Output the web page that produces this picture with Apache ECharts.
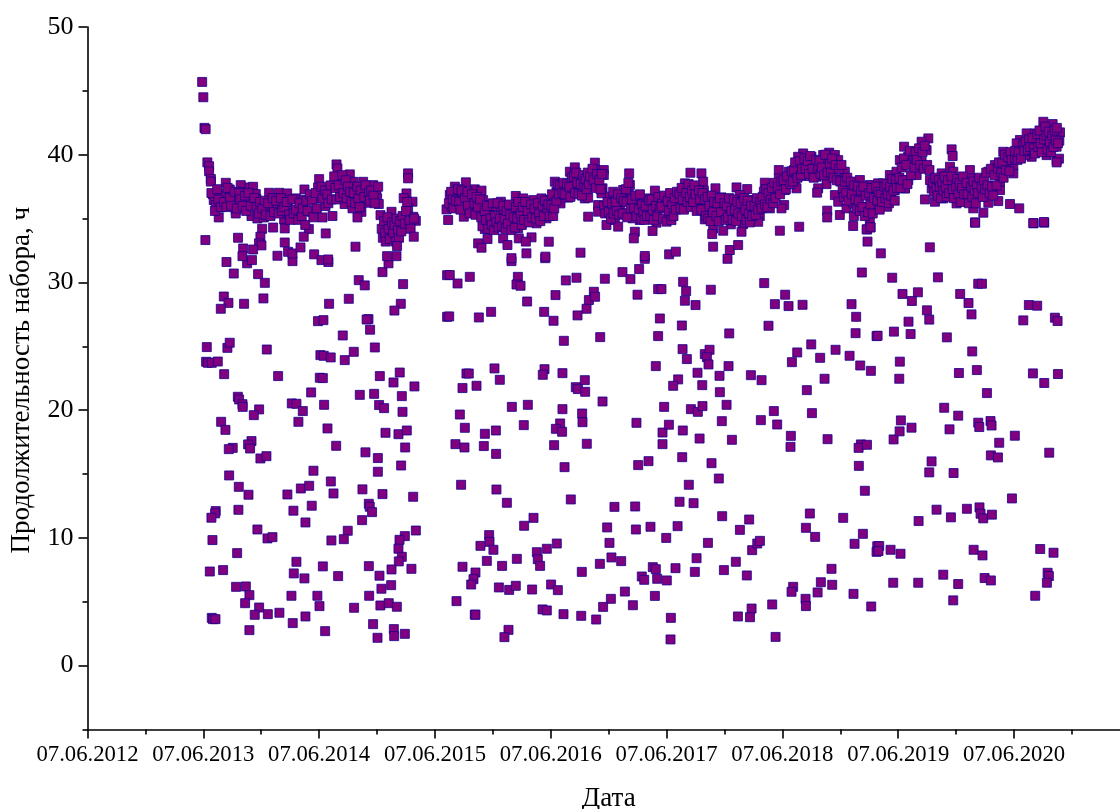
<!DOCTYPE html>
<html><head><meta charset="utf-8">
<style>html,body{margin:0;padding:0;background:#fff}#c{width:1120px;height:809px}</style>
<script src="https://cdn.jsdelivr.net/npm/echarts@6/dist/echarts.min.js"></script>
</head><body><div id="c"></div>
<script>
const xName = 'Дата';
const yName = 'Продолжительность набора, ч';
const xLabelYears = [2012,2013,2014,2015,2016,2017,2018,2019,2020];
const xMinorYears = [2012.5,2013.5,2014.5,2015.5,2016.5,2017.5,2018.5,2019.5,2020.5];
const yMajor = [0,10,20,30,40,50];
const yMinor = [-5,5,15,25,35,45];

const head2013 = [[2012.99,45.7],[2013.0,44.5],[2013.01,42.1],[2013.02,42.0],[2013.035,39.4],[2013.05,39.1],[2013.05,38.7],[2013.065,38.1],[2013.065,37.9]];

const scatter2013 = [[2013.018,33.32],[2013.3,33.5],[2013.2,31.6],[2013.378,31.5],[2013.42,31.75],[2013.263,30.7],[2013.473,30.65],[2013.531,29.97],[2013.177,28.9],[2013.217,28.4],[2013.151,27.94],[2013.352,28.33],[2013.519,28.75],[2013.77,31.67],[2013.03,24.94],[2013.208,24.88],[2013.228,25.28],[2013.548,24.75],[2013.024,23.79],[2013.04,23.71],[2013.073,23.71],[2013.125,23.81],[2013.18,22.82],[2013.646,22.67],[2013.931,21.39],[2013.298,21.05],[2013.309,20.84],[2013.338,20.47],[2013.34,20.26],[2013.482,20.06],[2013.436,19.61],[2013.764,20.53],[2013.804,20.5],[2013.859,19.93],[2013.154,19.09],[2013.191,18.46],[2013.821,19.09],[2013.254,17.05],[2013.22,16.95],[2013.416,17.58],[2013.387,17.32],[2013.404,17.0],[2013.493,16.22],[2013.545,16.4],[2013.223,14.89],[2013.306,14.0],[2013.39,13.38],[2013.951,15.26],[2013.842,13.87],[2013.914,14.08],[2013.726,13.4],[2013.303,12.2],[2013.778,12.13],[2013.936,12.52],[2013.107,12.1],[2013.102,11.92],[2013.07,11.58],[2013.882,11.21],[2013.467,10.66],[2013.554,9.96],[2013.597,10.06],[2013.079,9.83],[2013.292,8.81],[2013.804,8.13],[2013.056,7.37],[2013.171,7.48],[2013.781,7.22],[2013.873,6.83],[2013.283,6.17],[2013.367,6.2],[2013.398,5.52],[2013.761,5.47],[2013.985,5.47],[2013.361,4.89],[2013.482,4.55],[2013.444,3.98],[2013.557,4.03],[2013.657,4.14],[2013.073,3.74],[2013.084,3.64],[2013.105,3.64],[2013.882,3.85],[2013.772,3.33],[2013.398,2.78],[2013.493,33.58],[2013.481,33.06],[2013.502,32.9],[2013.344,32.66],[2013.43,32.58],[2013.338,32.06],[2013.64,32.09],[2013.732,32.4],[2013.77,32.27],[2013.957,32.2],[2013.703,33.13],[2013.839,32.74],[2013.99,26.97]];

const scatter2014 = [[2014.02,31.75],[2014.08,31.6],[2014.086,28.33],[2014.256,28.72],[2014.342,30.18],[2014.394,29.77],[2014.547,30.81],[2014.599,31.5],[2014.725,29.87],[2014.705,28.33],[2014.65,27.8],[2014.037,27.05],[2014.426,27.13],[2014.41,27.1],[2014.44,26.3],[2014.204,25.85],[2014.481,24.91],[2014.299,24.57],[2014.011,24.31],[2014.04,24.26],[2014.1,24.13],[2014.221,23.92],[2014.006,22.54],[2014.032,22.51],[2014.524,22.67],[2014.696,22.95],[2014.642,22.17],[2014.823,21.86],[2014.351,21.2],[2014.475,21.28],[2014.714,21.1],[2014.043,20.42],[2014.518,20.4],[2014.561,20.16],[2014.72,19.87],[2014.072,18.57],[2014.573,18.23],[2014.685,18.12],[2014.757,18.41],[2014.147,17.21],[2014.4,16.7],[2014.743,17.08],[2014.507,16.25],[2014.101,14.42],[2014.124,13.48],[2014.374,13.8],[2014.547,13.43],[2014.812,13.22],[2014.507,15.18],[2014.708,15.67],[2014.429,12.67],[2014.437,12.44],[2014.457,12.02],[2014.371,11.39],[2014.247,10.56],[2014.213,9.9],[2014.106,9.8],[2014.835,10.58],[2014.74,10.14],[2014.694,9.85],[2014.685,9.15],[2014.714,8.52],[2014.688,8.16],[2014.032,7.77],[2014.429,7.79],[2014.625,7.53],[2014.797,7.58],[2014.164,7.01],[2014.521,7.04],[2014.538,6.02],[2014.622,6.3],[2014.432,5.47],[2014.003,4.66],[2014.302,4.53],[2014.529,4.71],[2014.601,4.89],[2014.671,4.61],[2014.466,3.25],[2014.052,2.7],[2014.504,2.18],[2014.645,2.86],[2014.648,2.31],[2014.74,2.49],[2014.057,33.84],[2014.314,32.8],[2014.673,32.85],[2014.668,32.06],[2014.587,32.06],[2014.817,33.58],[2014.078,31.8]];

const scatter2015 = [[2015.105,30.57],[2015.105,27.31],[2015.128,30.58],[2015.195,29.92],[2015.301,30.44],[2015.661,31.67],[2015.952,31.9],[2015.716,30.44],[2015.704,29.84],[2015.739,29.74],[2015.796,28.51],[2015.943,27.7],[2015.485,27.7],[2015.379,27.26],[2015.123,27.34],[2015.272,22.87],[2015.292,22.87],[2015.514,23.27],[2015.56,22.38],[2015.359,21.91],[2015.238,21.73],[2015.946,23.21],[2015.931,22.77],[2015.664,20.26],[2015.802,20.42],[2015.215,19.66],[2015.258,18.62],[2015.431,18.15],[2015.526,18.41],[2015.767,18.83],[2015.177,17.34],[2015.255,17.08],[2015.422,17.19],[2015.528,16.58],[2015.226,14.16],[2015.531,13.79],[2015.621,12.75],[2015.851,11.57],[2015.77,10.95],[2015.468,10.22],[2015.471,9.69],[2015.393,9.38],[2015.505,9.07],[2015.966,9.15],[2015.88,8.88],[2015.888,8.33],[2015.908,7.81],[2015.448,8.2],[2015.707,8.36],[2015.238,7.74],[2015.58,7.81],[2015.35,7.29],[2015.333,6.77],[2015.313,6.35],[2015.552,6.12],[2015.641,5.93],[2015.698,6.25],[2015.839,5.96],[2015.186,5.05],[2015.344,3.99],[2015.35,3.99],[2015.929,4.4],[2015.966,4.32],[2015.635,2.8],[2015.6,2.23],[2015.373,33.06],[2015.402,32.72],[2015.454,33.4],[2015.589,33.45],[2015.626,32.93],[2015.724,33.45],[2015.834,33.53],[2015.785,33.2],[2015.79,32.28],[2015.661,31.9],[2015.954,32.02],[2015.983,33.19]];

const scatter2016 = [[2016.13,30.16],[2016.222,30.37],[2016.467,30.29],[2016.619,30.81],[2016.688,30.26],[2016.763,31.05],[2016.812,31.85],[2016.372,29.27],[2016.329,28.62],[2016.383,28.88],[2016.309,27.94],[2016.749,29.04],[2016.927,29.48],[2016.041,29.01],[2016.024,27.0],[2016.231,27.42],[2016.113,25.43],[2016.427,25.72],[2016.927,25.8],[2016.942,27.18],[2016.907,23.45],[2016.101,22.9],[2016.294,22.35],[2016.216,21.8],[2016.234,21.65],[2016.297,21.44],[2016.447,20.68],[2016.101,20.08],[2016.271,19.74],[2016.274,19.06],[2016.081,18.96],[2016.044,18.54],[2016.098,18.31],[2016.74,19.01],[2016.029,17.26],[2016.311,17.37],[2016.965,18.25],[2016.965,17.34],[2016.119,15.54],[2016.755,15.7],[2016.844,16.01],[2016.173,13.01],[2016.55,12.43],[2016.729,12.46],[2016.487,10.82],[2016.735,10.66],[2016.861,10.87],[2016.052,9.56],[2016.507,9.61],[2016.524,8.47],[2016.608,8.18],[2016.424,7.97],[2016.268,7.34],[2016.881,7.71],[2016.907,7.55],[2016.786,6.98],[2016.807,6.72],[2016.919,6.8],[2016.003,6.35],[2016.061,5.91],[2016.64,5.8],[2016.899,5.46],[2016.519,5.23],[2016.452,4.6],[2016.709,4.73],[2016.11,4.03],[2016.263,3.9],[2016.392,3.61],[2016.979,20.26],[2016.997,10.0],[2016.956,29.48],[2016.257,32.33],[2016.812,32.07],[2016.726,33.97],[2016.717,33.45],[2016.879,34.03],[2016.323,35.15]];

const scatter2017 = [[2017.526,31.85],[2017.143,30.05],[2017.169,29.32],[2017.158,28.57],[2017.25,28.23],[2017.382,29.43],[2017.843,29.95],[2017.935,28.3],[2017.88,26.61],[2017.132,26.63],[2017.541,26.01],[2017.138,24.78],[2017.33,24.39],[2017.371,24.73],[2017.348,24.15],[2017.362,23.58],[2017.175,24.0],[2017.267,22.93],[2017.1,22.41],[2017.057,21.91],[2017.308,21.96],[2017.535,23.45],[2017.457,22.69],[2017.46,21.41],[2017.728,22.74],[2017.82,22.35],[2017.518,20.42],[2017.21,20.08],[2017.27,19.87],[2017.31,20.32],[2017.477,19.14],[2017.02,18.86],[2017.14,18.41],[2017.285,17.78],[2017.564,17.68],[2017.926,19.93],[2017.814,19.22],[2017.955,18.88],[2017.135,16.32],[2017.388,15.85],[2017.451,14.65],[2017.192,14.16],[2017.112,12.83],[2017.233,12.72],[2017.48,11.7],[2017.713,11.44],[2017.633,10.63],[2017.095,10.92],[2017.357,9.61],[2017.739,9.04],[2017.783,9.56],[2017.806,9.77],[2017.259,8.41],[2017.077,7.63],[2017.244,7.34],[2017.495,7.48],[2017.598,8.13],[2017.693,7.06],[2017.002,6.67],[2017.912,4.79],[2017.734,4.47],[2017.616,3.85],[2017.72,3.79],[2017.037,3.74],[2017.034,2.05],[2017.941,2.25],[2017.022,32.2],[2017.08,32.41],[2017.394,33.79],[2017.402,32.8],[2017.546,32.54],[2017.618,32.93],[2017.978,34.05]];

const scatter2018 = [[2018.024,29.04],[2018.053,28.15],[2018.174,28.25],[2018.686,30.78],[2018.597,28.3],[2018.637,27.31],[2018.632,26.03],[2018.813,25.8],[2018.128,24.52],[2018.082,23.76],[2018.249,25.15],[2018.326,24.1],[2018.459,24.73],[2018.58,24.26],[2018.672,23.5],[2018.764,23.08],[2018.364,22.46],[2018.211,21.57],[2018.255,19.77],[2018.073,17.99],[2018.07,17.13],[2018.39,17.73],[2018.678,17.32],[2018.658,17.05],[2018.73,17.29],[2018.66,15.64],[2018.712,13.69],[2018.237,11.91],[2018.203,10.79],[2018.283,10.08],[2018.525,11.57],[2018.695,10.32],[2018.623,9.54],[2018.819,9.35],[2018.813,8.91],[2018.424,7.58],[2018.332,6.53],[2018.43,6.33],[2018.304,5.73],[2018.093,6.17],[2018.079,5.78],[2018.2,5.23],[2018.203,4.66],[2018.614,5.62],[2018.767,4.63],[2018.145,34.36],[2018.735,33.2],[2018.727,34.16],[2018.761,34.32],[2018.85,32.28],[2018.948,30.37],[2018.963,26.15],[2018.822,25.83],[2018.96,17.71],[2018.836,9.36],[2018.83,8.97],[2018.934,9.07],[2018.957,6.49]];

const scatter2019 = [[2019.665,34.68],[2019.273,32.75],[2019.343,30.4],[2019.691,29.9],[2019.723,29.9],[2019.037,29.1],[2019.17,29.23],[2019.118,28.55],[2019.535,29.1],[2019.607,28.39],[2019.633,27.5],[2019.248,27.82],[2019.268,27.09],[2019.089,26.93],[2019.107,25.96],[2019.42,25.7],[2019.639,24.6],[2019.014,23.8],[2019.009,22.46],[2019.524,22.91],[2019.679,23.14],[2019.766,21.34],[2019.397,20.19],[2019.518,19.57],[2019.443,18.5],[2019.691,19.02],[2019.7,18.68],[2019.797,19.15],[2019.806,18.8],[2019.023,19.2],[2019.115,18.63],[2019.012,18.34],[2019.872,17.45],[2019.8,16.46],[2019.861,16.3],[2019.288,15.99],[2019.268,15.13],[2019.478,15.08],[2019.982,13.09],[2019.331,12.21],[2019.593,12.28],[2019.702,12.39],[2019.711,11.89],[2019.734,11.53],[2019.809,11.82],[2019.455,11.61],[2019.176,11.32],[2019.02,8.76],[2019.651,9.07],[2019.728,8.63],[2019.389,7.12],[2019.746,6.86],[2019.8,6.67],[2019.518,6.39],[2019.173,6.49],[2019.475,5.11]];

const scatter2020 = [[2020.169,34.63],[2020.261,34.68],[2020.128,28.23],[2020.2,28.18],[2020.08,27.03],[2020.353,27.24],[2020.376,26.98],[2020.163,22.88],[2020.379,22.83],[2020.261,22.13],[2020.007,18.0],[2020.304,16.67],[2020.226,9.13],[2020.341,8.84],[2020.29,7.27],[2020.301,7.01],[2020.284,6.49],[2020.183,5.47],[2020.045,35.8],[2020.166,34.65],[2020.258,34.73]];

const band2013 = [[2013.084,36.89],[2013.09,36.45],[2013.107,36.06],[2013.142,35.87],[2013.133,35.09],[2013.171,36.97],[2013.194,37.8],[2013.228,37.28],[2013.257,36.84],[2013.272,36.27],[2013.28,35.67],[2013.28,35.4],[2013.323,37.62],[2013.338,37.1],[2013.387,36.32],[2013.401,37.44],[2013.43,37.49],[2013.453,36.92],[2013.459,36.53],[2013.416,35.2],[2013.467,35.01],[2013.508,34.2],[2013.568,37.02],[2013.531,35.66],[2013.522,35.09],[2013.588,35.8],[2013.603,34.3],[2013.654,37.02],[2013.724,36.97],[2013.732,36.45],[2013.637,35.93],[2013.698,34.93],[2013.703,34.23],[2013.761,35.59],[2013.798,36.58],[2013.873,37.28],[2013.867,36.45],[2013.911,34.18],[2013.867,33.58],[2013.934,35.53],[2013.983,36.58],[2014.0,38.09],[2013.991,37.44],
[2013.07,37.0],[2013.1,35.6],[2013.12,37.3],[2013.13,36.5],[2013.15,35.9],[2013.18,36.3],[2013.2,35.9],[2013.21,37.4],[2013.23,36.6],[2013.24,36.0],[2013.27,37.1],[2013.29,35.8],[2013.31,37.0],[2013.32,36.5],[2013.34,36.0],[2013.36,36.8],[2013.37,35.6],[2013.39,37.0],[2013.41,36.0],[2013.44,36.6],[2013.46,35.9],[2013.48,35.4],[2013.49,36.3],[2013.51,35.8],[2013.53,36.4],[2013.54,35.3],[2013.56,36.2],[2013.58,35.2],[2013.6,36.6],[2013.61,35.5],[2013.63,36.4],[2013.65,35.4],[2013.67,36.6],[2013.68,35.6],[2013.7,35.9],[2013.72,36.3],[2013.74,35.3],[2013.75,34.9],[2013.77,36.5],[2013.78,35.4],[2013.8,35.7],[2013.82,34.9],[2013.83,36.2],[2013.85,35.2],[2013.86,35.8],[2013.88,34.5],[2013.89,36.4],[2013.9,35.6],[2013.92,36.9],[2013.94,36.4],[2013.95,35.1],[2013.97,37.0],[2013.98,35.8]];

const band2014 = [[2014.15,39.24],[2014.158,38.93],[2014.184,38.28],[2014.265,38.46],[2014.222,37.49],[2014.294,37.88],[2014.38,37.88],[2014.466,37.62],[2014.38,37.23],[2014.495,37.1],[2014.501,36.58],[2014.515,36.14],[2014.414,36.24],[2014.22,36.14],[2014.288,35.8],[2014.365,35.53],[2014.331,35.09],[2014.53,35.27],[2014.625,35.53],[2014.768,38.54],[2014.768,38.15],[2014.754,36.97],[2014.806,36.32],[2014.768,35.8],[2014.812,35.14],[2014.835,34.83],[2014.029,35.09],[2014.115,35.2],[2014.055,35.98],
[2014.02,37.5],[2014.03,36.6],[2014.05,37.2],[2014.07,36.9],[2014.08,36.2],[2014.1,37.6],[2014.11,36.5],[2014.13,38.3],[2014.14,37.4],[2014.15,36.5],[2014.17,37.6],[2014.18,36.7],[2014.2,38.4],[2014.21,37.0],[2014.23,38.0],[2014.24,36.6],[2014.25,37.5],[2014.27,37.1],[2014.28,36.3],[2014.3,37.0],[2014.31,36.2],[2014.33,37.5],[2014.34,36.6],[2014.35,35.9],[2014.36,37.2],[2014.39,36.7],[2014.4,37.6],[2014.43,37.0],[2014.44,36.4],[2014.45,37.2],[2014.47,36.8],[2014.48,36.2],[2014.51,37.5],[2014.54,34.2],[2014.55,33.5],[2014.56,34.8],[2014.57,33.9],[2014.575,33.2],[2014.59,35.1],[2014.6,34.2],[2014.61,33.4],[2014.63,34.7],[2014.64,33.9],[2014.65,34.5],[2014.66,33.2],[2014.67,35.0],[2014.68,34.1],[2014.69,33.5],[2014.7,34.8],[2014.71,34.0],[2014.72,35.2],[2014.73,36.6],[2014.74,34.6],[2014.75,35.6],[2014.76,36.3],[2014.78,34.8],[2014.79,34.2],[2014.82,35.0]];

const band2015 = [[2015.114,34.89],[2015.1,35.72],[2015.143,35.93],[2015.128,36.85],[2015.172,37.5],[2015.19,37.0],[2015.267,37.84],[2015.249,35.15],[2015.243,36.06],[2015.301,36.72],[2015.344,37.29],[2015.402,37.19],[2015.416,36.45],[2015.422,36.06],[2015.382,35.41],[2015.33,35.67],[2015.474,35.41],[2015.503,35.98],[2015.569,36.32],[2015.569,35.54],[2015.431,34.18],[2015.488,34.24],[2015.546,35.02],[2015.655,34.76],[2015.67,35.8],[2015.698,36.77],[2015.762,36.58],[2015.718,34.24],[2015.848,36.45],[2015.92,36.58],[2015.992,36.45],[2015.877,34.63],[2015.819,35.41],[2015.963,35.02],
[2015.12,36.2],[2015.14,37.1],[2015.155,36.5],[2015.16,35.8],[2015.18,36.4],[2015.2,37.3],[2015.21,36.3],[2015.22,35.7],[2015.23,37.2],[2015.26,36.6],[2015.28,37.1],[2015.285,36.0],[2015.3,35.4],[2015.32,36.9],[2015.34,36.2],[2015.35,35.3],[2015.36,36.7],[2015.37,35.9],[2015.39,36.5],[2015.4,35.1],[2015.41,34.4],[2015.43,35.6],[2015.44,34.9],[2015.45,36.0],[2015.46,34.2],[2015.48,35.0],[2015.49,34.5],[2015.5,36.2],[2015.51,34.1],[2015.52,35.2],[2015.53,34.7],[2015.54,36.2],[2015.55,34.3],[2015.56,35.0],[2015.58,34.4],[2015.59,36.0],[2015.6,35.0],[2015.61,34.2],[2015.62,35.6],[2015.63,34.6],[2015.64,36.1],[2015.65,35.3],[2015.66,34.1],[2015.68,35.1],[2015.69,34.3],[2015.7,35.9],[2015.71,35.0],[2015.72,36.3],[2015.74,35.4],[2015.75,34.5],[2015.76,35.9],[2015.77,34.9],[2015.78,36.3],[2015.8,35.6],[2015.81,34.7],[2015.83,36.1],[2015.84,35.1],[2015.86,35.8],[2015.87,35.0],[2015.89,36.2],[2015.9,35.4],[2015.91,34.8],[2015.93,36.0],[2015.94,35.2],[2015.95,36.4],[2015.97,35.8],[2015.98,36.1],[2015.99,35.2]];

const band2016 = [[2016.021,35.2],[2016.006,36.06],[2016.084,36.19],[2016.035,37.89],[2016.049,37.1],[2016.15,36.64],[2016.165,38.67],[2016.208,39.01],[2016.265,38.33],[2016.381,39.38],[2016.381,38.8],[2016.458,38.8],[2016.458,38.41],[2016.447,37.37],[2016.438,36.98],[2016.294,36.58],[2016.323,36.64],[2016.193,37.24],[2016.251,37.5],[2016.352,37.63],[2016.409,36.06],[2016.409,35.54],[2016.481,34.5],[2016.553,34.89],[2016.582,34.37],[2016.51,36.72],[2016.539,37.1],[2016.677,38.54],[2016.683,37.63],[2016.674,36.85],[2016.625,37.24],[2016.597,36.06],[2016.64,35.41],[2016.755,36.45],[2016.827,36.58],[2016.769,34.89],[2016.706,35.02],[2016.841,35.54],[2016.899,37.19],[2016.899,36.32],[2016.913,34.68],
[2016.01,36.9],[2016.03,35.8],[2016.05,36.4],[2016.06,37.7],[2016.07,36.9],[2016.08,37.6],[2016.1,37.0],[2016.11,37.8],[2016.12,36.9],[2016.14,37.7],[2016.16,37.5],[2016.17,36.7],[2016.18,38.2],[2016.2,38.3],[2016.21,37.0],[2016.22,38.6],[2016.23,37.8],[2016.24,36.9],[2016.26,37.7],[2016.27,36.8],[2016.28,38.4],[2016.29,37.6],[2016.3,38.1],[2016.31,37.3],[2016.32,38.6],[2016.33,37.7],[2016.34,38.3],[2016.36,38.9],[2016.37,38.0],[2016.39,37.4],[2016.4,38.5],[2016.42,38.0],[2016.43,37.3],[2016.44,38.5],[2016.46,36.0],[2016.47,35.4],[2016.49,36.3],[2016.5,35.5],[2016.52,35.0],[2016.53,36.2],[2016.54,35.4],[2016.56,36.3],[2016.57,35.6],[2016.58,36.9],[2016.59,35.3],[2016.61,36.6],[2016.62,35.4],[2016.63,36.4],[2016.65,37.3],[2016.655,36.3],[2016.66,35.1],[2016.67,37.8],[2016.69,35.8],[2016.7,36.5],[2016.72,35.8],[2016.73,36.8],[2016.74,35.2],[2016.76,35.7],[2016.77,36.9],[2016.78,35.0],[2016.79,36.1],[2016.8,35.5],[2016.81,34.9],[2016.82,36.0],[2016.83,35.2],[2016.85,36.4],[2016.86,35.2],[2016.87,36.5],[2016.88,35.7],[2016.89,34.9],[2016.91,36.0],[2016.92,35.2],[2016.93,36.7],[2016.94,35.8],[2016.96,36.2],[2016.97,35.0],[2016.98,36.8],[2016.99,36.0]];

const band2017 = [[2017.0,34.76],[2016.956,35.93],[2017.028,35.41],[2017.042,36.85],[2017.1,36.98],[2017.092,36.06],[2017.206,38.59],[2017.301,38.54],[2017.158,37.76],[2017.316,37.89],[2017.322,37.18],[2017.1,36.19],[2017.042,34.88],[2017.273,36.4],[2017.273,35.75],[2017.345,36.06],[2017.422,37.37],[2017.474,36.66],[2017.489,35.8],[2017.33,34.94],[2017.388,35.54],[2017.402,34.23],[2017.604,37.44],[2017.696,37.31],[2017.632,36.84],[2017.748,36.45],[2017.569,36.32],[2017.661,35.93],[2017.667,35.09],[2017.661,34.57],[2017.555,34.55],[2017.489,34.05],[2017.647,33.97],[2017.805,35.2],[2017.791,34.75],[2017.848,37.81],[2017.84,37.1],[2017.863,36.45],[2017.892,35.8],[2017.969,38.8],[2017.969,38.15],[2017.949,37.23],[2018.021,37.23],[2018.015,36.06],[2017.992,35.8],
[2017.01,36.4],[2017.02,35.6],[2017.03,37.0],[2017.05,36.1],[2017.06,35.2],[2017.07,36.6],[2017.08,35.7],[2017.09,37.1],[2017.11,36.9],[2017.12,35.8],[2017.13,37.4],[2017.14,36.5],[2017.15,35.7],[2017.17,37.0],[2017.18,36.3],[2017.19,37.7],[2017.2,36.7],[2017.21,35.9],[2017.22,37.2],[2017.23,36.3],[2017.24,37.6],[2017.25,36.9],[2017.26,35.6],[2017.28,37.2],[2017.29,36.5],[2017.3,35.7],[2017.31,37.0],[2017.33,36.5],[2017.34,35.2],[2017.355,36.7],[2017.36,35.0],[2017.37,36.0],[2017.38,34.8],[2017.39,36.8],[2017.4,35.5],[2017.41,36.3],[2017.43,35.2],[2017.44,36.2],[2017.45,34.8],[2017.46,36.6],[2017.47,35.5],[2017.5,36.2],[2017.51,34.9],[2017.52,36.0],[2017.53,35.1],[2017.54,36.6],[2017.56,35.6],[2017.57,34.9],[2017.58,36.5],[2017.59,35.7],[2017.6,34.8],[2017.61,36.3],[2017.62,35.4],[2017.64,36.2],[2017.65,35.2],[2017.67,36.6],[2017.68,35.7],[2017.69,34.9],[2017.7,36.4],[2017.71,35.4],[2017.72,34.7],[2017.73,36.0],[2017.74,35.2],[2017.76,36.0],[2017.77,35.3],[2017.78,36.6],[2017.79,35.7],[2017.81,36.3],[2017.82,35.8],[2017.83,36.7],[2017.85,36.1],[2017.86,37.3],[2017.87,35.9],[2017.88,37.0],[2017.9,36.5],[2017.91,37.4],[2017.92,36.2],[2017.93,37.8],[2017.94,36.6],[2017.96,37.5],[2017.98,36.9],[2017.99,37.9]];

const band2018 = [[2018.056,38.67],[2018.107,37.89],[2018.122,37.37],[2018.179,40.1],[2018.136,39.84],[2018.165,39.19],[2018.208,38.33],[2018.251,39.84],[2018.28,39.19],[2018.352,39.98],[2018.404,40.16],[2018.453,39.98],[2018.482,39.58],[2018.381,39.32],[2018.439,39.06],[2018.539,38.67],[2018.381,37.7],[2018.309,37.37],[2018.3,37.03],[2018.295,38.28],[2018.525,38.15],[2018.387,35.62],[2018.387,35.09],[2018.496,35.28],[2018.453,36.84],[2018.482,36.32],[2018.554,35.8],[2018.582,37.37],[2018.669,38.02],[2018.755,37.63],[2018.827,37.76],[2018.611,36.19],[2018.617,35.2],[2018.611,34.42],[2018.697,36.97],[2018.726,35.93],[2018.804,35.88],[2018.798,36.71],[2018.87,37.76],[2018.755,34.88],[2018.761,34.31],[2018.732,34.15],[2018.905,35.93],[2018.971,37.23],[2018.87,37.23],[2018.928,38.41],[2018.985,38.67],
[2018.01,38.0],[2018.03,37.3],[2018.04,38.3],[2018.07,37.7],[2018.08,38.7],[2018.09,37.9],[2018.1,38.8],[2018.11,39.4],[2018.13,38.2],[2018.15,39.5],[2018.16,38.4],[2018.17,38.9],[2018.19,39.7],[2018.2,38.9],[2018.22,39.5],[2018.23,38.5],[2018.24,39.9],[2018.26,38.9],[2018.27,38.2],[2018.29,39.6],[2018.31,38.9],[2018.32,39.5],[2018.33,38.5],[2018.34,39.0],[2018.36,38.4],[2018.37,40.0],[2018.39,38.6],[2018.41,39.3],[2018.42,38.6],[2018.43,39.7],[2018.44,38.2],[2018.46,39.2],[2018.47,38.0],[2018.49,38.9],[2018.5,37.9],[2018.51,39.2],[2018.52,37.3],[2018.53,36.7],[2018.54,37.9],[2018.55,37.0],[2018.56,38.2],[2018.57,36.4],[2018.59,37.9],[2018.6,36.9],[2018.62,37.6],[2018.63,36.5],[2018.64,35.8],[2018.65,37.5],[2018.66,36.4],[2018.67,35.6],[2018.68,37.2],[2018.69,35.9],[2018.7,37.5],[2018.71,35.2],[2018.72,36.8],[2018.74,35.5],[2018.75,37.0],[2018.76,36.1],[2018.77,37.4],[2018.78,35.4],[2018.79,36.6],[2018.81,37.5],[2018.82,36.4],[2018.83,37.1],[2018.84,35.7],[2018.85,36.9],[2018.86,36.3],[2018.88,37.5],[2018.89,36.6],[2018.9,37.7],[2018.91,36.9],[2018.92,36.2],[2018.93,37.5],[2018.94,36.8],[2018.95,38.1],[2018.96,37.2],[2018.97,36.4],[2018.98,38.0],[2018.99,37.4]];

const band2019 = [[2019.014,39.58],[2019.051,40.63],[2019.086,39.84],[2019.057,37.37],[2019.26,41.28],[2019.202,41.02],[2019.245,40.36],[2019.05,39.71],[2019.13,39.97],[2019.202,39.45],[2019.173,38.93],[2019.116,39.32],[2019.159,38.41],[2019.087,38.02],[2019.058,37.36],[2019.461,40.42],[2019.47,39.9],[2019.231,36.5],[2019.317,36.32],[2019.274,38.02],[2019.289,37.36],[2019.375,38.54],[2019.447,39.06],[2019.476,38.67],[2019.447,37.49],[2019.36,36.97],[2019.389,36.58],[2019.504,36.19],[2019.619,38.8],[2019.619,38.15],[2019.576,37.1],[2019.576,36.45],[2019.49,38.02],[2019.706,38.02],[2019.778,38.67],[2019.691,36.71],[2019.778,36.24],[2019.648,35.8],[2019.735,35.46],[2019.663,34.7],[2019.864,36.37],[2019.965,36.14],[2019.879,37.23],[2019.879,37.89],[2019.907,40.23],[2019.835,39.19],[2019.936,39.32],[2019.994,38.54],[2019.994,39.19],
[2019.01,38.2],[2019.02,37.4],[2019.03,39.0],[2019.04,38.0],[2019.07,39.2],[2019.08,37.7],[2019.1,40.3],[2019.11,38.4],[2019.14,39.0],[2019.15,40.2],[2019.16,39.6],[2019.18,40.5],[2019.19,39.2],[2019.21,40.2],[2019.22,38.9],[2019.23,40.7],[2019.25,39.2],[2019.27,38.8],[2019.3,37.8],[2019.31,37.1],[2019.32,38.2],[2019.33,37.4],[2019.34,36.8],[2019.35,38.0],[2019.36,37.5],[2019.37,36.6],[2019.38,37.8],[2019.39,37.2],[2019.4,38.3],[2019.41,37.5],[2019.42,36.7],[2019.43,38.0],[2019.44,37.0],[2019.46,38.3],[2019.47,37.3],[2019.48,36.6],[2019.5,37.5],[2019.51,38.1],[2019.52,36.9],[2019.53,37.8],[2019.54,36.3],[2019.55,37.4],[2019.56,38.3],[2019.57,36.9],[2019.59,37.8],[2019.6,36.9],[2019.61,36.2],[2019.63,37.5],[2019.64,36.7],[2019.65,37.9],[2019.66,37.2],[2019.67,36.2],[2019.68,37.6],[2019.69,37.0],[2019.7,38.2],[2019.72,37.5],[2019.73,36.7],[2019.74,38.0],[2019.75,37.3],[2019.76,38.6],[2019.77,37.6],[2019.79,37.0],[2019.8,38.9],[2019.81,37.5],[2019.82,36.8],[2019.83,38.4],[2019.85,37.6],[2019.86,38.9],[2019.87,39.4],[2019.89,38.6],[2019.9,39.4],[2019.91,38.2],[2019.92,40.0],[2019.93,38.8],[2019.95,39.8],[2019.96,38.7],[2019.97,40.2],[2019.98,39.6]];

const band2020 = [[2020.008,39.71],[2020.051,41.15],[2020.109,41.67],[2020.181,41.67],[2020.152,39.84],[2020.281,39.97],[2020.368,39.58],[2020.253,42.58],[2020.333,42.4],[2020.397,41.75],[2020.391,41.1],[2020.388,39.69],[2020.368,39.4],[2020.195,41.02],[2020.281,40.89],[2020.368,40.63],[2020.066,40.5],[2020.095,39.97],[2020.238,41.67],[2020.023,40.89],
[2020.01,40.3],[2020.03,39.6],[2020.04,40.2],[2020.06,39.7],[2020.08,40.8],[2020.09,40.3],[2020.1,41.0],[2020.12,40.4],[2020.13,41.2],[2020.14,40.6],[2020.16,41.3],[2020.17,40.5],[2020.18,40.1],[2020.2,41.6],[2020.21,40.6],[2020.22,41.9],[2020.23,40.9],[2020.24,40.2],[2020.26,41.2],[2020.27,42.2],[2020.28,41.5],[2020.29,40.4],[2020.3,41.8],[2020.31,41.0],[2020.32,40.2],[2020.33,41.5],[2020.34,40.6],[2020.35,41.9],[2020.36,41.1],[2020.37,42.1],[2020.38,40.9]];

const allPoints = [].concat(head2013,band2013,scatter2013,band2014,scatter2014,band2015,scatter2015,band2016,scatter2016,band2017,scatter2017,band2018,scatter2018,band2019,scatter2019,band2020,scatter2020);

const FONT = 'Liberation Serif';
const chart = echarts.init(document.getElementById('c'),null,{renderer:'canvas'});
const lineStyle = {color:'#000',width:1.6};
chart.setOption({
  animation:false,
  backgroundColor:'#fff',
  grid:{left:87.5,top:27,width:1032.5,height:702.5,containLabel:false,outerBoundsMode:'none'},
  xAxis:[
    {type:'value',min:2012,max:2020.915,position:'bottom',splitLine:{show:false},
     axisLine:{show:true,onZero:false,lineStyle},
     axisTick:{show:true,customValues:xLabelYears,length:9,lineStyle},
     axisLabel:{show:true,customValues:xLabelYears,margin:14,formatter:v=>'07.06.'+v,
       fontFamily:FONT,fontSize:22.7,color:'#000',hideOverlap:false},
     name:xName,nameLocation:'middle',nameGap:56,
     nameTextStyle:{fontFamily:FONT,fontSize:27,color:'#000',padding:[0,0,0,10]}},
    {type:'value',min:2012,max:2020.915,position:'bottom',splitLine:{show:false},
     axisLine:{show:false,onZero:false},
     axisTick:{show:true,customValues:xMinorYears,length:5,lineStyle},
     axisLabel:{show:false}}
  ],
  yAxis:[
    {type:'value',min:-5,max:50,position:'left',splitLine:{show:false},
     axisLine:{show:true,onZero:false,lineStyle},
     axisTick:{show:true,customValues:yMajor,length:9,lineStyle},
     axisLabel:{show:true,customValues:yMajor,margin:14,fontFamily:FONT,fontSize:26,color:'#000'},
     name:yName,nameLocation:'middle',nameGap:52,
     nameTextStyle:{fontFamily:FONT,fontSize:27,color:'#000',padding:[0,4,0,0]}},
    {type:'value',min:-5,max:50,position:'left',splitLine:{show:false},
     axisLine:{show:false,onZero:false},
     axisTick:{show:true,customValues:yMinor,length:5,lineStyle},
     axisLabel:{show:false}}
  ],
  series:[{type:'scatter',xAxisIndex:0,yAxisIndex:0,data:allPoints,symbol:'rect',symbolSize:9,
    itemStyle:{color:'#800080',borderColor:'#14008c',borderWidth:0.8,opacity:1},
    large:false,clip:true}]
});
</script></body></html>
